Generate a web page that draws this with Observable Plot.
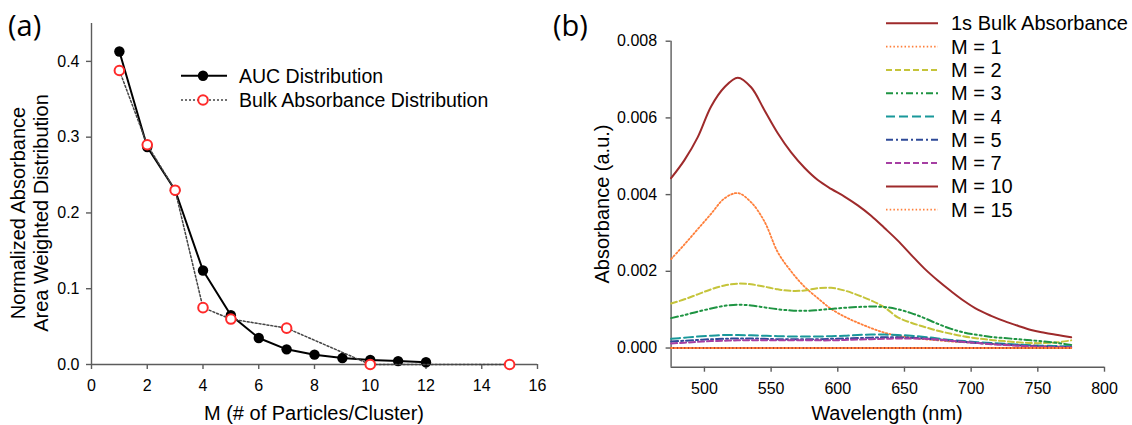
<!DOCTYPE html>
<html><head><meta charset="utf-8">
<script src="https://cdn.jsdelivr.net/npm/d3@7"></script>
<script src="https://cdn.jsdelivr.net/npm/@observablehq/plot@0.6"></script>
<style>
html,body{margin:0;padding:0;background:#fff;}
#wrap{position:relative;width:1132px;height:425px;overflow:hidden;font-family:"Liberation Sans",Arial,sans-serif;}
#wrap > svg, #wrap > figure{position:absolute;top:0;margin:0;}
</style></head><body><div id="wrap"></div>
<script>
// ---------- Panel (a) data ----------
const clusterM_auc = [1,2,3,4,5,6,7,8,9,10,11,12];
const aucValues = [0.413,0.287,0.230,0.124,0.065,0.035,0.020,0.013,0.0085,0.006,0.0045,0.003];
const clusterM_bulk = [1,2,3,4,5,7,10,15];
const bulkDistValues = [0.388,0.290,0.230,0.075,0.060,0.048,0.000,0.000];
const xTicksA = [0,2,4,6,8,10,12,14,16];
const yTicksA = [0,0.1,0.2,0.3,0.4];
const xDomainA = [0,16];
const yDomainA = [0,0.45];
const legendA = ["AUC Distribution","Bulk Absorbance Distribution"];

// ---------- Panel (b) data ----------
const wavelength = [475,485,495,505,515,525,535,545,555,565,575,585,595,605,615,625,635,645,655,665,675,685,695,705,715,725,735,745,755,765,775];
const bulkAbs = [0.00443,0.0049,0.0055,0.0063,0.0068,0.00705,0.0068,0.0062,0.0056,0.0051,0.0047,0.00438,0.00415,0.00395,0.00372,0.00345,0.00313,0.0028,0.00243,0.00207,0.00176,0.00148,0.00122,0.0010,0.00084,0.0007,0.00058,0.00047,0.0004,0.00034,0.00028];
const m1Abs = [0.00232,0.0027,0.0031,0.0035,0.0039,0.00404,0.0038,0.0033,0.0025,0.0020,0.0016,0.0013,0.00102,0.00082,0.00066,0.00052,0.0004,0.00032,0.00027,0.00023,0.0002,0.00017,0.00015,0.00013,0.00011,0.0001,0.00008,0.00007,0.00005,0.00004,0.00003];
const m2Abs = [0.00116,0.00127,0.0014,0.00153,0.00163,0.00168,0.00166,0.0016,0.00153,0.00149,0.0015,0.00156,0.00157,0.0015,0.00138,0.00124,0.00106,0.0008,0.00066,0.00055,0.00045,0.00037,0.0003,0.00025,0.00021,0.00018,0.00015,0.00013,0.00013,0.00015,0.0002];
const m3Abs = [0.00078,0.00086,0.00095,0.00103,0.0011,0.00113,0.00111,0.00106,0.00101,0.00098,0.00097,0.00099,0.00102,0.00105,0.00107,0.00108,0.00107,0.00101,0.00091,0.00078,0.00063,0.0005,0.0004,0.00034,0.00029,0.00026,0.00023,0.0002,0.00017,0.00013,0.00008];
const m4Abs = [0.00024,0.00027,0.0003,0.00032,0.00034,0.00034,0.00033,0.00032,0.00031,0.0003,0.0003,0.0003,0.00031,0.00032,0.00034,0.00035,0.00035,0.00034,0.00032,0.00029,0.00025,0.00021,0.00018,0.00015,0.00013,0.00011,0.00009,0.00007,0.00006,0.00005,0.00005];
const m5Abs = [0.00017,0.00019,0.00021,0.00023,0.00024,0.00025,0.00025,0.00024,0.00023,0.00023,0.00023,0.00023,0.00024,0.00025,0.00026,0.00027,0.00028,0.00028,0.00027,0.00025,0.00022,0.00019,0.00016,0.00013,0.00011,0.00009,0.00007,0.00005,0.00004,0.00003,0.00003];
const m7Abs = [0.00012,0.00014,0.00016,0.00018,0.00019,0.0002,0.0002,0.0002,0.0002,0.0002,0.0002,0.0002,0.0002,0.00021,0.00022,0.00023,0.00024,0.00025,0.00025,0.00024,0.00022,0.00019,0.00016,0.00013,0.0001,0.00008,0.00006,0.00004,0.00003,0.00002,0.00002];
const wavelengthEnds = [475,775];
const m10Abs = [0,0];
const m15Abs = [0,0];
const xTicksB = [500,550,600,650,700,750,800];
const yTicksB = [0,0.002,0.004,0.006,0.008];
const xDomainB = [475,800];
const yDomainB = [-0.0005,0.008];

const seriesB = [
  {name:"1s Bulk Absorbance", x:wavelength, y:bulkAbs, color:"#9E2A2B", dash:null, w:2},
  {name:"M = 1", x:wavelength, y:m1Abs, color:"#FF7F3A", dash:"1.5,2.2", w:1.8},
  {name:"M = 2", x:wavelength, y:m2Abs, color:"#C5C43A", dash:"6,3", w:2},
  {name:"M = 3", x:wavelength, y:m3Abs, color:"#1E9442", dash:"7,3,2,3,2,3", w:2},
  {name:"M = 4", x:wavelength, y:m4Abs, color:"#19989A", dash:"9,4", w:2},
  {name:"M = 5", x:wavelength, y:m5Abs, color:"#2E4A98", dash:"7,3,2,3", w:2},
  {name:"M = 7", x:wavelength, y:m7Abs, color:"#A63FA3", dash:"6,3", w:2},
  {name:"M = 10", x:wavelengthEnds, y:m10Abs, color:"#9E2A2B", dash:null, w:2},
  {name:"M = 15", x:wavelengthEnds, y:m15Abs, color:"#FF7F3A", dash:"1.5,2.2", w:1.8}
];

const FONT = '"Liberation Sans", Arial, sans-serif';
const AXIS = "#5c5c5c";
const wrap = document.getElementById("wrap");

// ---------- Plot (a) ----------
const aucData = clusterM_auc.map((m,i)=>({m, v:aucValues[i]}));
const bulkData = clusterM_bulk.map((m,i)=>({m, v:bulkDistValues[i]}));
const plotA = Plot.plot({
  width:560, height:425,
  marginLeft:91, marginRight:23, marginTop:23, marginBottom:61,
  style:{background:"transparent", fontFamily:FONT, fontSize:"16px", color:"#000", overflow:"visible"},
  x:{domain:xDomainA}, y:{domain:yDomainA},
  marks:[
    Plot.ruleX([xDomainA[0]], {stroke:AXIS, strokeWidth:1.4}),
    Plot.ruleY([yDomainA[0]], {stroke:AXIS, strokeWidth:1.4}),
    Plot.axisX({ticks:xTicksA, tickSize:5, tickPadding:10, stroke:AXIS, strokeWidth:1.4, fill:"#000", fontSize:16, label:null}),
    Plot.axisY({ticks:yTicksA, tickSize:5, tickPadding:7, tickFormat:d3.format(".1f"), stroke:AXIS, strokeWidth:1.4, fill:"#000", fontSize:16, label:null}),
    Plot.line(aucData, {x:"m", y:"v", stroke:"#000", strokeWidth:2}),
    Plot.dot(aucData, {x:"m", y:"v", r:5.2, fill:"#000", stroke:"none"}),
    Plot.line(bulkData, {x:"m", y:"v", stroke:"#444", strokeWidth:1.5, strokeDasharray:"2,2"}),
    Plot.dot(bulkData, {x:"m", y:"v", r:4.8, fill:"#fff", stroke:"#FF2A2A", strokeWidth:2})
  ]
});
plotA.style.left = "0px";
wrap.appendChild(plotA);

// ---------- Plot (b) ----------
const marksB = [
  Plot.ruleX([xDomainB[0]], {stroke:AXIS, strokeWidth:1.4}),
  Plot.ruleY([yDomainB[0]], {stroke:AXIS, strokeWidth:1.4}),
  Plot.axisX({ticks:xTicksB, tickSize:5, tickPadding:10, stroke:AXIS, strokeWidth:1.4, fill:"#000", fontSize:16, label:null}),
  Plot.axisY({ticks:yTicksB, tickSize:5, tickPadding:9, tickFormat:d3.format(".3f"), stroke:AXIS, strokeWidth:1.4, fill:"#000", fontSize:16, label:null})
];
for (const s of seriesB) {
  const data = s.x.map((x,i)=>({x, y:s.y[i]}));
  marksB.push(Plot.line(data, {x:"x", y:"y", stroke:s.color, strokeWidth:s.w, strokeDasharray:s.dash || undefined, curve:"catmull-rom"}));
}
const plotB = Plot.plot({
  width:572, height:425,
  marginLeft:110.6, marginRight:28, marginTop:40.7, marginBottom:58.3,
  style:{background:"transparent", fontFamily:FONT, fontSize:"16px", color:"#000", overflow:"visible"},
  x:{domain:xDomainB}, y:{domain:yDomainB},
  marks:marksB
});
plotB.style.left = "560px";
wrap.appendChild(plotB);

// ---------- Overlay: titles, panel labels, legends ----------
const ov = d3.select(wrap).append("svg")
  .attr("width",1132).attr("height",425)
  .style("left","0px").style("pointer-events","none")
  .attr("font-family",FONT);

ov.append("text").text("(a)").attr("x",8).attr("y",36).attr("font-family",'"Open Sans", "Noto Sans", sans-serif').attr("font-size",29).attr("fill","#000");
ov.append("text").text("(b)").attr("x",553).attr("y",36).attr("font-family",'"Open Sans", "Noto Sans", sans-serif').attr("font-size",29).attr("fill","#000");

ov.append("text").text("M (# of Particles/Cluster)").attr("x",314).attr("y",420).attr("text-anchor","middle").attr("font-size",20);
ov.append("text").text("Wavelength (nm)").attr("x",887).attr("y",420).attr("text-anchor","middle").attr("font-size",20);
ov.append("text").text("Normalized Absorbance").attr("transform","translate(25,213) rotate(-90)").attr("text-anchor","middle").attr("font-size",20);
ov.append("text").text("Area Weighted Distribution").attr("transform","translate(47.5,213) rotate(-90)").attr("text-anchor","middle").attr("font-size",20);
ov.append("text").text("Absorbance (a.u.)").attr("transform","translate(609,204) rotate(-90)").attr("text-anchor","middle").attr("font-size",20);

// legend (a)
const la = [{y:75.7, dash:null, w:2, stroke:"#000", fill:"#000", ms:"none", mw:0},
            {y:100, dash:"2,2", w:1.5, stroke:"#444", fill:"#fff", ms:"#FF2A2A", mw:2}];
la.forEach((d,i)=>{
  ov.append("line").attr("x1",181).attr("x2",227).attr("y1",d.y).attr("y2",d.y)
    .attr("stroke",d.stroke).attr("stroke-width",d.w).attr("stroke-dasharray",d.dash);
  ov.append("circle").attr("cx",203).attr("cy",d.y).attr("r",i===0?5.2:4.8)
    .attr("fill",d.fill).attr("stroke",d.ms).attr("stroke-width",d.mw);
  ov.append("text").text(legendA[i]).attr("x",239).attr("y",d.y).attr("dy","0.35em").attr("font-size",19.5);
});

// legend (b)
seriesB.forEach((s,i)=>{
  const y = 23.3 + 23.3*i;
  ov.append("line").attr("x1",886).attr("x2",938).attr("y1",y).attr("y2",y)
    .attr("stroke",s.color).attr("stroke-width",s.w).attr("stroke-dasharray",s.dash);
  ov.append("text").text(s.name).attr("x",951).attr("y",y).attr("dy","0.35em").attr("font-size",20);
});
</script></body></html>
